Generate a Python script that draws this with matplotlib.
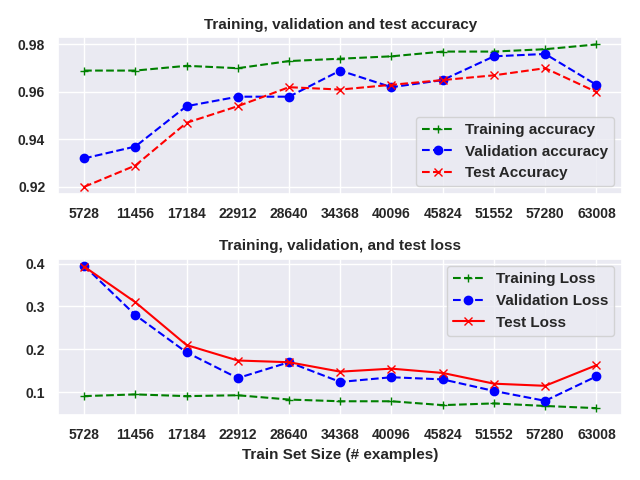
import matplotlib
matplotlib.use("Agg")
import matplotlib.pyplot as plt
import seaborn as sns

sns.set_theme(style="darkgrid")
plt.rcParams["font.family"] = ["Liberation Sans", "DejaVu Sans"]
plt.rcParams["font.weight"] = "bold"
plt.rcParams["axes.titleweight"] = "bold"
plt.rcParams["axes.labelweight"] = "bold"

sizes = [5728, 11456, 17184, 22912, 28640, 34368, 40096, 45824, 51552, 57280, 63008]

train_acc = [0.969, 0.969, 0.971, 0.970, 0.973, 0.974, 0.975, 0.977, 0.977, 0.978, 0.980]
val_acc = [0.932, 0.937, 0.954, 0.958, 0.958, 0.969, 0.962, 0.965, 0.975, 0.976, 0.963]
test_acc = [0.920, 0.929, 0.947, 0.954, 0.962, 0.961, 0.963, 0.965, 0.967, 0.970, 0.960]

train_loss = [0.091, 0.095, 0.091, 0.093, 0.083, 0.079, 0.079, 0.070, 0.074, 0.068, 0.063]
val_loss = [0.395, 0.280, 0.193, 0.133, 0.170, 0.124, 0.135, 0.130, 0.103, 0.080, 0.137]
test_loss = [0.393, 0.310, 0.210, 0.174, 0.170, 0.148, 0.155, 0.145, 0.120, 0.115, 0.163]

fig, (ax1, ax2) = plt.subplots(2, 1, figsize=(6.4, 4.8), dpi=100)

ax1.plot(sizes, train_acc, "--+", color="green", label="Training accuracy")
ax1.plot(sizes, val_acc, "--o", color="blue", label="Validation accuracy")
ax1.plot(sizes, test_acc, "--x", color="red", label="Test Accuracy")
ax1.set_title("Training, validation and test accuracy", fontsize=11)
ax1.set_xticks(sizes)
ax1.set_yticks([0.92, 0.94, 0.96, 0.98])
ax1.legend(loc="lower right")

ax2.plot(sizes, train_loss, "--+", color="green", label="Training Loss")
ax2.plot(sizes, val_loss, "--o", color="blue", label="Validation Loss")
ax2.plot(sizes, test_loss, "-x", color="red", label="Test Loss")
ax2.set_title("Training, validation, and test loss", fontsize=11)
ax2.set_xticks(sizes)
ax2.set_yticks([0.1, 0.2, 0.3, 0.4])
ax2.set_xlabel("Train Set Size (# examples)", fontsize=11)
ax2.legend(loc="upper right")

for ax in (ax1, ax2):
    ax.tick_params(labelsize=10)
    for lbl in ax.get_xticklabels() + ax.get_yticklabels():
        lbl.set_fontweight("bold")

fig.tight_layout()
fig.savefig("out.png")
